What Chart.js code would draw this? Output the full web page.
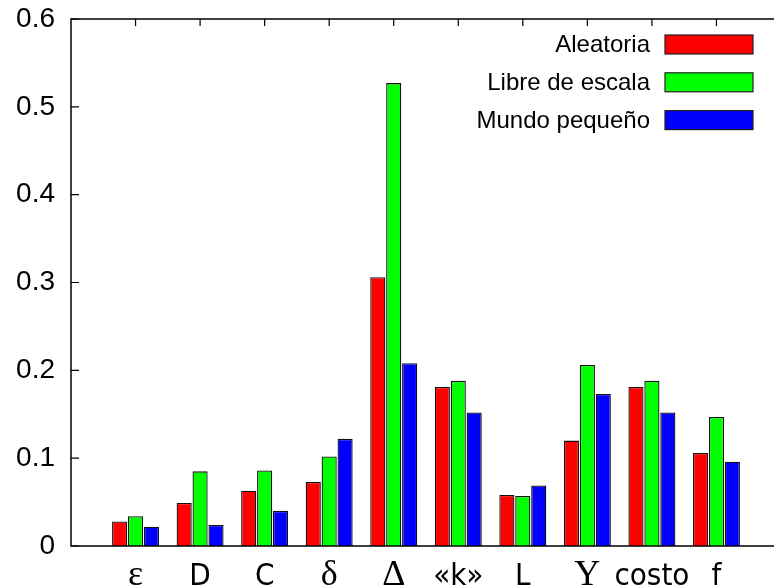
<!DOCTYPE html>
<html>
<head>
<meta charset="utf-8">
<script src="https://cdn.jsdelivr.net/npm/chart.js@4.4.1/dist/chart.umd.min.js"></script>
<style>
  html, body { margin: 0; padding: 0; background: #fff; overflow: hidden; }
  #wrap { width: 800px; height: 587px; }
</style>
</head>
<body>
<div id="wrap"><canvas id="chartCanvas" width="800" height="587"></canvas></div>
<script>
const categories = ["ε", "D", "C", "δ", "Δ", "«k»", "L", "Υ", "costo", "f"];
const seriesNames = ["Aleatoria", "Libre de escala", "Mundo pequeño"];
const aleatoria = [0.028, 0.049, 0.063, 0.073, 0.306, 0.181, 0.058, 0.120, 0.181, 0.106];
const libreEscala = [0.034, 0.085, 0.086, 0.102, 0.527, 0.188, 0.057, 0.206, 0.188, 0.147];
const mundoPequeno = [0.022, 0.024, 0.040, 0.122, 0.208, 0.152, 0.069, 0.173, 0.152, 0.096];
const yTicks = [0, 0.1, 0.2, 0.3, 0.4, 0.5, 0.6];

const barColor = ["#ff0000", "#00ff00", "#0000ff"];
const greek = ["ε", "δ", "Δ", "Υ"];

function toPoints(values) {
    return values.map(function (v, i) { return { x: i, y: v }; });
}

// frame, inward tick marks and the legend (gnuplot style)
const framePlugin = {
    id: "frame",
    afterDatasetsDraw: function (chart) {
        const ctx = chart.ctx;
        const area = chart.chartArea;
        const xs = chart.scales.x;
        const ys = chart.scales.y;
        ctx.save();
        ctx.strokeStyle = "#000";
        ctx.lineWidth = 1.5;
        ctx.strokeRect(area.left, area.top, area.right - area.left, area.bottom - area.top);
        ctx.lineWidth = 1.2;
        ctx.beginPath();
        yTicks.forEach(function (t) {
            const py = ys.getPixelForValue(t);
            ctx.moveTo(area.left, py);
            ctx.lineTo(area.left + 8, py);
        });
        categories.forEach(function (c, i) {
            const px = xs.getPixelForValue(i);
            ctx.moveTo(px, area.top);
            ctx.lineTo(px, area.top + 7);
        });
        ctx.stroke();

        // legend: text on the left, box on the right
        ctx.font = "24px 'Liberation Sans', Arial, sans-serif";
        ctx.textAlign = "right";
        ctx.textBaseline = "middle";
        chart.data.datasets.forEach(function (ds, i) {
            const cy = 44.5 + 37.8 * i;
            ctx.fillStyle = "#000";
            ctx.fillText(ds.label, 650, cy + 1);
            ctx.fillStyle = ds.backgroundColor;
            ctx.fillRect(665, cy - 9.5, 88, 19);
            ctx.strokeStyle = "#222";
            ctx.lineWidth = 1.2;
            ctx.strokeRect(665, cy - 9.5, 88, 19);
        });
        ctx.restore();
    }
};

const ctx = document.getElementById("chartCanvas").getContext("2d");

const chart = new Chart(ctx, {
    type: "bar",
    data: {
        datasets: [aleatoria, libreEscala, mundoPequeno].map(function (vals, i) {
            return {
                label: seriesNames[i],
                data: toPoints(vals),
                backgroundColor: barColor[i],
                borderColor: "#111",
                borderWidth: 1.3,
                barPercentage: 0.95,
                categoryPercentage: 0.74
            };
        })
    },
    options: {
        responsive: false,
        animation: false,
        layout: { padding: { top: 19, right: 19, left: 0, bottom: 0 } },
        plugins: {
            legend: { display: false },
            tooltip: { enabled: false }
        },
        scales: {
            x: {
                type: "linear",
                min: -1,
                max: 10,
                offset: false,
                grid: { display: false, drawTicks: false, tickLength: 0 },
                border: { display: false },
                afterFit: function (s) {
                    s.height = 41;
                    s.paddingLeft = 0;
                    s.paddingRight = 0;
                },
                ticks: {
                    stepSize: 1,
                    autoSkip: false,
                    maxRotation: 0,
                    padding: 12,
                    color: "#000",
                    font: function (c) {
                        const lab = categories[c.tick ? c.tick.value : -1];
                        if (greek.indexOf(lab) >= 0) {
                            return { family: "'Liberation Serif', 'DejaVu Serif', serif", size: 36, lineHeight: 0.98 };
                        }
                        return { family: "'Liberation Sans Narrow', 'DejaVu Sans Condensed', sans-serif", size: 31, lineHeight: 1.2 };
                    },
                    callback: function (value) {
                        return categories[value] !== undefined ? categories[value] : "";
                    }
                }
            },
            y: {
                min: 0,
                max: 0.6,
                grid: { display: false, drawTicks: false, tickLength: 0 },
                border: { display: false },
                afterFit: function (s) {
                    s.width = 71;
                    s.paddingTop = 0;
                    s.paddingBottom = 0;
                },
                ticks: {
                    stepSize: 0.1,
                    padding: 16,
                    color: "#000",
                    font: { family: "'Liberation Sans', Arial, sans-serif", size: 28 },
                    callback: function (value) {
                        return value === 0 ? "0" : value.toFixed(1);
                    }
                }
            }
        }
    },
    plugins: [framePlugin]
});
</script>
</body>
</html>
